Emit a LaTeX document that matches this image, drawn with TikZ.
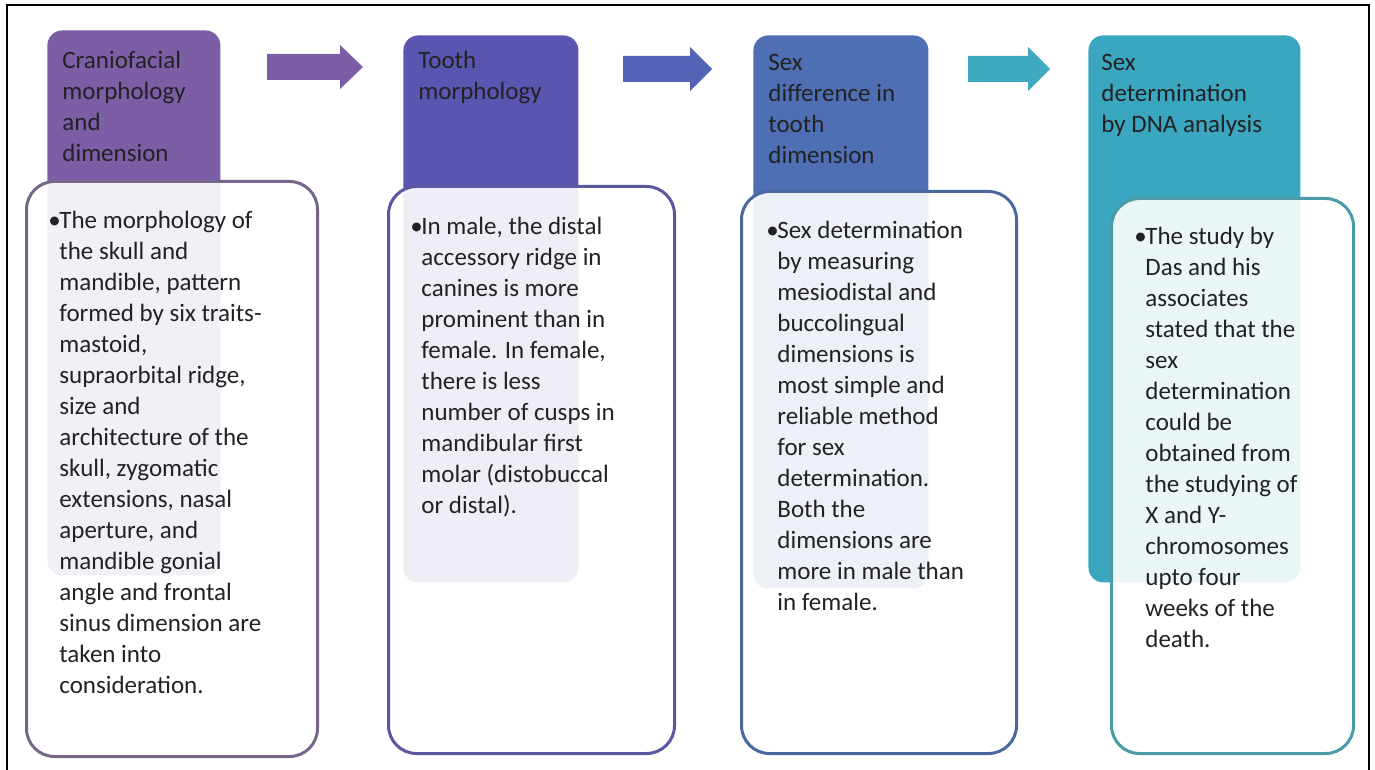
\documentclass[tikz,border=0pt]{standalone}
\usepackage{fontspec}
\setmainfont{Carlito}
\definecolor{hA}{HTML}{7B5EA6}
\definecolor{hB}{HTML}{5A55B0}
\definecolor{hC}{HTML}{4F6FB5}
\definecolor{hD}{HTML}{3BA6BF}
\definecolor{aB}{HTML}{5363B5}
\definecolor{aC}{HTML}{3FA9C0}
\definecolor{bA}{HTML}{75668A}
\definecolor{bB}{HTML}{5B56A0}
\definecolor{bC}{HTML}{4A68A0}
\definecolor{bD}{HTML}{4A9AA8}
\definecolor{txt}{HTML}{222222}
\newcommand\bul{\makebox[5.5pt][l]{•}}
\newcommand\ind{\hspace*{5.5pt}}
\begin{document}
\begin{tikzpicture}[x=0.5pt,y=-0.5pt,
  hdrbox/.style={rectangle,rounded corners=7.5pt,anchor=north west,inner sep=0pt,draw=none},
  bodybox/.style={rectangle,rounded corners=14pt,anchor=north west,inner sep=0pt,line width=1.5pt,fill=white,fill opacity=0.9,draw opacity=1},
  label/.style={anchor=north west,inner sep=0pt,align=left,text=txt,font={\fontsize{12.5}{15.5}\selectfont}},
  blockarrow/.style={draw=none}]
\useasboundingbox (0,0) rectangle (1375,770);
\draw[line width=1pt] (7,770) -- (7,5) -- (1369,5) -- (1369,770);

% headers
\node[hdrbox,fill=hA,minimum width=86.5pt,minimum height=272.5pt] (h1) at (47,30) {};
\node[hdrbox,fill=hB,minimum width=87.5pt,minimum height=273.5pt] (h2) at (403,35) {};
\node[hdrbox,fill=hC,minimum width=87.5pt,minimum height=276.5pt] (h3) at (753,35) {};
\node[hdrbox,fill=hD,minimum width=106pt,minimum height=273.5pt] (h4) at (1088,35) {};

% arrows
\fill[hA] (267,54) -- (340,54) -- (340,45) -- (363,67) -- (340,89) -- (340,80) -- (267,80) -- cycle;
\fill[aB] (623,56) -- (690,56) -- (690,47) -- (712,69) -- (690,91) -- (690,82) -- (623,82) -- cycle;
\fill[aC] (968,56) -- (1028,56) -- (1028,47) -- (1050,69) -- (1028,91) -- (1028,82) -- (968,82) -- cycle;

% header texts
\node[label] (ht1) at (62,51) {Craniofacial\\morphology\\and\\dimension};
\node[label] (ht2) at (418,51) {Tooth\\morphology};
\node[label] (ht3) at (768,54) {Sex\\difference in\\tooth\\dimension};
\node[label] (ht4) at (1101,54) {Sex\\determination\\by DNA analysis};

% body boxes
\node[bodybox,draw=bA,minimum width=145.5pt,minimum height=287.5pt] (b1) at (25,180) {};
\node[bodybox,draw=bB,minimum width=143pt,minimum height=283.5pt] (b2) at (387,185) {};
\node[bodybox,draw=bC,minimum width=137.5pt,minimum height=281pt] (b3) at (740,190) {};
\node[bodybox,draw=bD,minimum width=121pt,minimum height=277.5pt] (b4) at (1110,197) {};

% body texts
\node[label] (bt1) at (48,211) {\bul The morphology of\\\ind the skull and\\\ind mandible, pattern\\\ind formed by six traits-\\\ind mastoid,\\\ind supraorbital ridge,\\\ind size and\\\ind architecture of the\\\ind skull, zygomatic\\\ind extensions, nasal\\\ind aperture, and\\\ind mandible gonial\\\ind angle and frontal\\\ind sinus dimension are\\\ind taken into\\\ind consideration.};
\node[label] (bt2) at (410,217) {\bul In male, the distal\\\ind accessory ridge in\\\ind canines is more\\\ind prominent than in\\\ind female. In female,\\\ind there is less\\\ind number of cusps in\\\ind mandibular first\\\ind molar (distobuccal\\\ind or distal).};
\node[label] (bt3) at (766,221) {\bul Sex determination\\\ind by measuring\\\ind mesiodistal and\\\ind buccolingual\\\ind dimensions is\\\ind most simple and\\\ind reliable method\\\ind for sex\\\ind determination.\\\ind Both the\\\ind dimensions are\\\ind more in male than\\\ind in female.};
\node[label] (bt4) at (1134,227) {\bul The study by\\\ind Das and his\\\ind associates\\\ind stated that the\\\ind sex\\\ind determination\\\ind could be\\\ind obtained from\\\ind the studying of\\\ind X and Y-\\\ind chromosomes\\\ind upto four\\\ind weeks of the\\\ind death.};
\end{tikzpicture}
\end{document}
